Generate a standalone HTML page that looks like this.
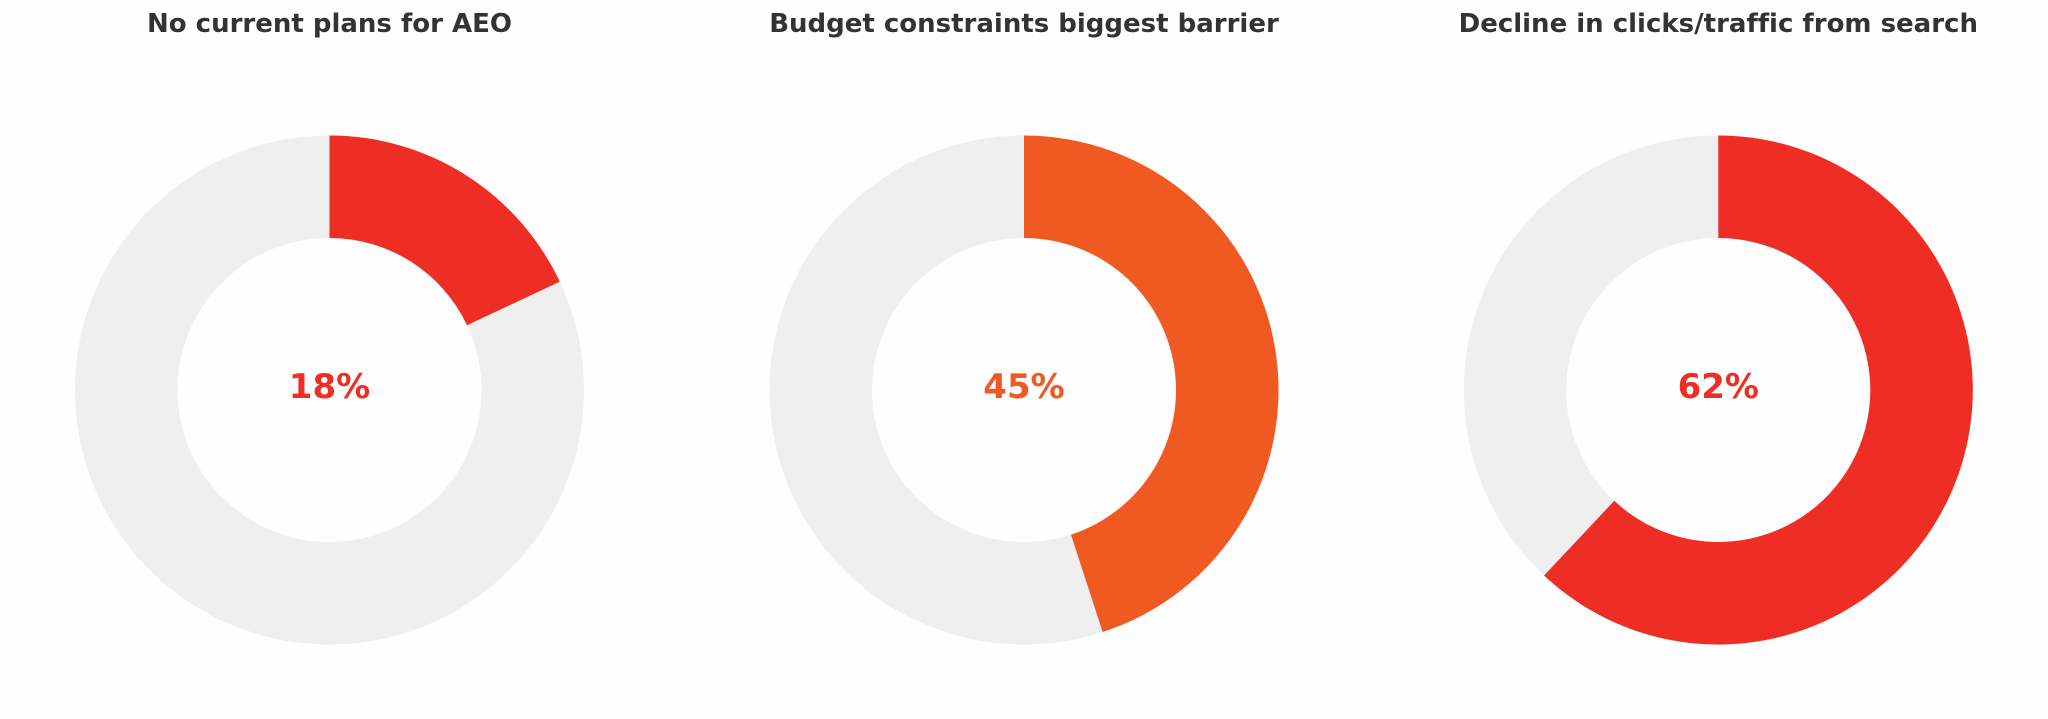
<!DOCTYPE html>
<html>
<head>
<meta charset="utf-8">
<style>
  html, body { margin: 0; padding: 0; background: #fefefe; }
  svg { display: block; }
  text { font-variant-ligatures: none; font-feature-settings: "liga" 0, "clig" 0; }
  .title { font-family: "DejaVu Sans", "Liberation Sans", sans-serif; font-weight: bold; font-size: 26px; fill: #333333; }
  .pct { font-family: "DejaVu Sans", "Liberation Sans", sans-serif; font-weight: bold; font-size: 34px; }
</style>
</head>
<body>
<svg width="2048" height="719" viewBox="0 0 2048 719" xmlns="http://www.w3.org/2000/svg">
  <rect x="0" y="0" width="2048" height="719" fill="#fefefe"/>

  <!-- Donut 1 -->
  <text class="title" x="329.5" y="32" text-anchor="middle">No current plans for AEO</text>
  <circle cx="329.5" cy="390" r="203.25" fill="none" stroke="#efefef" stroke-width="102.5"/>
  <path d="M 329.5 135.5 A 254.5 254.5 0 0 1 559.77 281.63 L 467.03 325.28 A 152 152 0 0 0 329.5 238 Z" fill="#ee2d24"/>
  <text class="pct" x="329.5" y="398" text-anchor="middle" fill="#ee2d24">18%</text>

  <!-- Donut 2 -->
  <text class="title" x="1024" y="32" text-anchor="middle">Budget constraints biggest barrier</text>
  <circle cx="1024" cy="390" r="203.25" fill="none" stroke="#efefef" stroke-width="102.5"/>
  <path d="M 1024 135.5 A 254.5 254.5 0 0 1 1102.64 632.05 L 1070.97 534.57 A 152 152 0 0 0 1024 238 Z" fill="#f05a22"/>
  <text class="pct" x="1024" y="398" text-anchor="middle" fill="#f05a22">45%</text>

  <!-- Donut 3 -->
  <text class="title" x="1718.3" y="32" text-anchor="middle">Decline in clicks/traffic from search</text>
  <circle cx="1718.3" cy="390" r="203.25" fill="none" stroke="#efefef" stroke-width="102.5"/>
  <path d="M 1718.3 135.5 A 254.5 254.5 0 1 1 1544.1 575.53 L 1614.26 500.81 A 152 152 0 1 0 1718.3 238 Z" fill="#ee2d24"/>
  <text class="pct" x="1718.3" y="398" text-anchor="middle" fill="#ee2d24">62%</text>
</svg>
</body>
</html>
